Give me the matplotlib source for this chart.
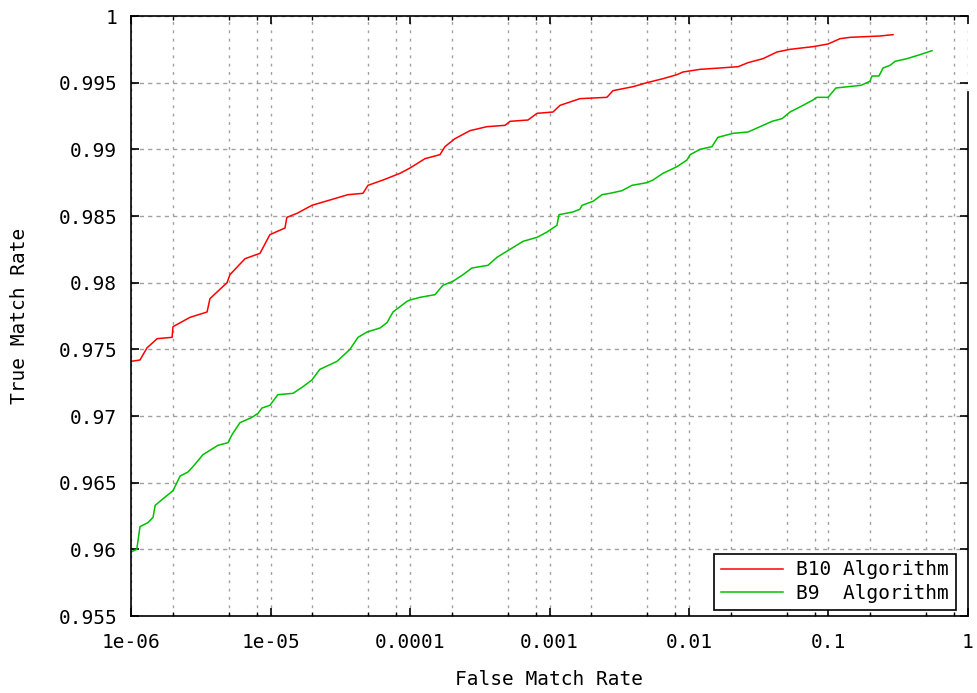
import matplotlib
matplotlib.use("Agg")
import matplotlib.pyplot as plt
from matplotlib.ticker import LogLocator, FixedLocator, NullFormatter, FixedFormatter

# ---- data ----
b10_fmr = [1.0e-6, 1.16e-6, 1.30e-6, 1.54e-6, 1.97e-6, 2.0e-6, 2.65e-6, 3.51e-6, 3.68e-6,
           4.88e-6, 5.12e-6, 6.57e-6, 8.41e-6, 9.9e-6, 1.27e-5, 1.31e-5, 1.55e-5, 1.98e-5,
           2.67e-5, 3.59e-5, 4.60e-5, 5.0e-5, 6.41e-5, 8.48e-5, 1.0e-4, 1.28e-4, 1.64e-4,
           1.78e-4, 2.10e-4, 2.69e-4, 3.56e-4, 4.80e-4, 5.21e-4, 7.01e-4, 8.14e-4, 1.06e-3,
           1.19e-3, 1.65e-3, 2.58e-3, 2.85e-3, 3.97e-3, 5.0e-3, 6.51e-3, 8.2e-3, 9.06e-3,
           1.20e-2, 1.67e-2, 2.25e-2, 2.65e-2, 3.39e-2, 4.27e-2, 5.30e-2, 7.74e-2, 9.92e-2,
           0.121, 0.143, 0.234, 0.290]
b10_tmr = [0.9741, 0.9742, 0.9751, 0.9758, 0.9759, 0.9767, 0.9774, 0.9778, 0.9788,
           0.9800, 0.9806, 0.9818, 0.9822, 0.9836, 0.9841, 0.9849, 0.9852, 0.9858,
           0.9862, 0.9866, 0.9867, 0.9873, 0.9877, 0.9882, 0.9886, 0.9893, 0.9896,
           0.9902, 0.9908, 0.9914, 0.9917, 0.9918, 0.9921, 0.9922, 0.9927, 0.9928,
           0.9933, 0.9938, 0.9939, 0.9944, 0.9947, 0.9950, 0.9953, 0.9956, 0.9958,
           0.9960, 0.9961, 0.9962, 0.9965, 0.9968, 0.9973, 0.9975, 0.9977, 0.9979,
           0.9983, 0.9984, 0.9985, 0.9986]

b9_fmr = [1.0e-6, 1.10e-6, 1.16e-6, 1.32e-6, 1.44e-6, 1.49e-6, 1.70e-6, 2.0e-6, 2.25e-6,
          2.56e-6, 2.78e-6, 3.28e-6, 4.20e-6, 4.96e-6, 5.30e-6, 6.04e-6, 7.37e-6, 8.14e-6,
          8.69e-6, 9.9e-6, 1.13e-5, 1.45e-5, 1.71e-5, 1.98e-5, 2.26e-5, 3.0e-5, 3.71e-5,
          4.24e-5, 4.92e-5, 6.09e-5, 6.84e-5, 7.55e-5, 8.48e-5, 9.52e-5, 1.0e-4, 1.18e-4,
          1.51e-4, 1.72e-4, 2.03e-4, 2.40e-4, 2.78e-4, 3.62e-4, 4.20e-4, 5.21e-4, 6.46e-4,
          8.14e-4, 9.6e-4, 1.13e-3, 1.17e-3, 1.47e-3, 1.65e-3, 1.71e-3, 2.05e-3, 2.38e-3,
          2.71e-3, 3.31e-3, 3.90e-3, 5.0e-3, 5.52e-3, 6.51e-3, 8.2e-3, 9.67e-3, 1.02e-2,
          1.20e-2, 1.46e-2, 1.61e-2, 2.07e-2, 2.65e-2, 3.23e-2, 3.94e-2, 4.64e-2, 5.30e-2,
          6.57e-2, 7.74e-2, 8.27e-2, 9.92e-2, 0.113, 0.171, 0.198, 0.205, 0.230, 0.246,
          0.276, 0.300, 0.365, 0.453, 0.552]
b9_tmr = [0.9598, 0.9600, 0.9617, 0.9620, 0.9624, 0.9633, 0.9638, 0.9644, 0.9655,
          0.9658, 0.9662, 0.9671, 0.9678, 0.9680, 0.9686, 0.9695, 0.9699, 0.9702,
          0.9706, 0.9708, 0.9716, 0.9717, 0.9722, 0.9727, 0.9735, 0.9741, 0.9750,
          0.9759, 0.9763, 0.9766, 0.9770, 0.9778, 0.9782, 0.9786, 0.9787, 0.9789,
          0.9791, 0.9798, 0.9801, 0.9806, 0.9811, 0.9813, 0.9819, 0.9825, 0.9831,
          0.9834, 0.9838, 0.9843, 0.9851, 0.9853, 0.9855, 0.9858, 0.9861, 0.9866,
          0.9867, 0.9869, 0.9873, 0.9875, 0.9877, 0.9882, 0.9887, 0.9892, 0.9896,
          0.9900, 0.9902, 0.9909, 0.9912, 0.9913, 0.9917, 0.9921, 0.9923, 0.9928,
          0.9933, 0.9937, 0.9939, 0.9939, 0.9946, 0.9948, 0.9951, 0.9955, 0.9955, 0.9961,
          0.9963, 0.9966, 0.9968, 0.9971, 0.9974]

x_ticks = [1e-6, 1e-5, 1e-4, 1e-3, 1e-2, 1e-1, 1]
x_tick_labels = ["1e-06", "1e-05", "0.0001", "0.001", "0.01", "0.1", "1"]
y_ticks = [0.955, 0.96, 0.965, 0.97, 0.975, 0.98, 0.985, 0.99, 0.995, 1.0]
y_tick_labels = ["0.955", "0.96", "0.965", "0.97", "0.975", "0.98", "0.985", "0.99", "0.995", "1"]
series_labels = ["B10 Algorithm", "B9  Algorithm"]

# ---- figure ----
plt.rcParams['font.family'] = ['DejaVu Sans Mono']
FS = 14
fig = plt.figure(figsize=(9.78, 6.93), dpi=100)
ax = fig.add_axes([131/978, 77/693, 837/978, 600/693])

ax.plot(b10_fmr, b10_tmr, color="#ff0000", lw=1.1, label=series_labels[0])
ax.plot(b9_fmr, b9_tmr, color="#00c000", lw=1.1, label=series_labels[1])

ax.set_xscale("log")
ax.set_xlim(1e-6, 1)
ax.set_ylim(0.955, 1.0)

ax.xaxis.set_major_locator(FixedLocator(x_ticks))
ax.xaxis.set_major_formatter(FixedFormatter(x_tick_labels))
ax.xaxis.set_minor_locator(LogLocator(base=10, subs=[2, 5, 8], numticks=20))
ax.xaxis.set_minor_formatter(NullFormatter())
ax.yaxis.set_major_locator(FixedLocator(y_ticks))
ax.yaxis.set_major_formatter(FixedFormatter(y_tick_labels))

ax.tick_params(which="both", direction="in", top=True, right=True, colors="black",
               labelsize=FS)
ax.tick_params(which="major", length=6, width=1.2)
ax.tick_params(which="minor", length=3, width=1.0)
ax.tick_params(axis="y", pad=10)
ax.tick_params(axis="x", pad=12)

gc = "#a0a0a0"
ax.grid(True, axis="y", which="major", color=gc, lw=1.0, linestyle=(0, (3, 3)))
ax.grid(True, axis="x", which="both", color=gc, lw=1.0, linestyle=(0, (2, 4)))
ax.set_axisbelow(True)

for s in ["left", "bottom", "top"]:
    ax.spines[s].set_linewidth(1.2)
    ax.spines[s].set_color("black")
ax.spines["right"].set_visible(False)
# right border (drawn only over its lower part, as in the reference)
ax.plot([1, 1], [0, (616 - 92) / 600], transform=ax.transAxes, color="black",
        lw=1.2, clip_on=False)

ax.set_xlabel("False Match Rate", fontsize=FS, labelpad=13)
ax.set_ylabel("True Match Rate", fontsize=FS, labelpad=21)

leg = ax.legend(loc="lower right", bbox_to_anchor=(0.9857, 0.01), fontsize=FS,
                frameon=True, fancybox=False, framealpha=1, edgecolor="black",
                handlelength=3.2, handletextpad=0.7, borderpad=0.35, labelspacing=0.25,
                borderaxespad=0)
leg.get_frame().set_linewidth(1.2)

fig.savefig("out.png", dpi=100)
